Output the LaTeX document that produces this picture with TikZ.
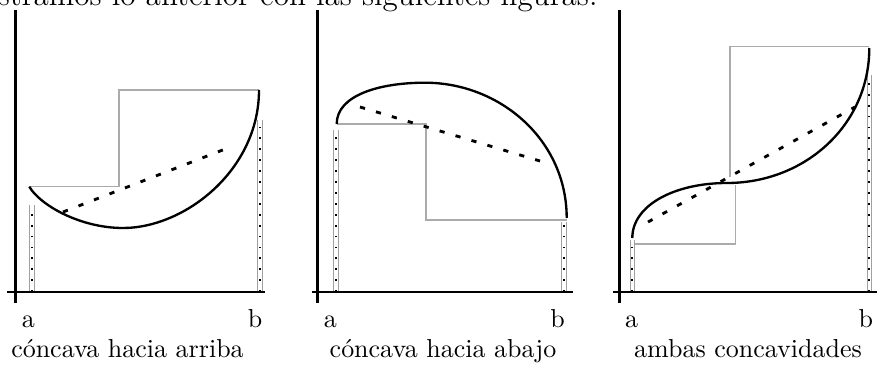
\documentclass[tikz,border=0pt]{standalone}
\usepackage{tikz}
\definecolor{Step}{HTML}{ABABAB}
\definecolor{Guide}{HTML}{A0A0A0}
\tikzset{
  eje/.style={line width=1.1pt,draw=black},
  curva/.style={line width=0.9pt,draw=black},
  escalon/.style={line width=0.45pt,draw=Step},
  secante/.style={line width=1.1pt,draw=black,dash pattern=on 2pt off 4.4pt},
  guia/.style={line width=0.4pt,draw=Guide,double=white,double distance=1.2pt},
  puntos/.style={line width=0.9pt,draw=black,dash pattern=on 0.7pt off 3.5pt},
  etiqueta/.style={anchor=base,inner sep=0pt}
}
\newcommand{\ordenada}[2]{%
  \draw[guia] (#1,292) -- (#1,#2);
  \draw[puntos] (#1,292) -- (#1,#2);}

\begin{document}
\begin{tikzpicture}[x=0.385pt,y=-0.385pt]
  \useasboundingbox (0,0) rectangle (877,369);
  \node[anchor=base east,inner sep=0pt,font=\fontsize{12}{14}\selectfont] (intro) at (598,5.5) {Ilustramos lo anterior con las siguientes figuras.};

  % concava hacia arriba
  \draw[escalon] (29.3,186.5) -- (119,186.5) -- (119,90) -- (259,90);
  \ordenada{32}{205}
  \ordenada{260}{120}
  \draw[secante] (63,212) -- (233,146);
  \draw[curva] (29.3,186.7) .. controls (40,205) and (80,228) .. (123,228)
               .. controls (185,228) and (259,170) .. (259,90);
  \draw[eje] (15.3,10) -- (15.3,303);
  \draw[eje] (7,292) -- (265,292);
  \node[etiqueta] (a1) at (28.3,328) {a};
  \node[etiqueta] (b1) at (255,328) {b};
  \node[etiqueta] (c1) at (127.5,358) {cóncava hacia arriba};

  % concava hacia abajo
  \draw[escalon] (336.7,124) -- (426,124) -- (426,220) -- (566.7,220);
  \ordenada{336}{130}
  \ordenada{564}{222}
  \draw[secante] (360,107) -- (540,161);
  \draw[curva] (336.7,124) .. controls (336.7,95) and (380,82.7) .. (425,82.7)
               .. controls (500,82.7) and (566.7,140) .. (566.7,218);
  \draw[eje] (317.3,10) -- (317.3,303);
  \draw[eje] (312,292) -- (573,292);
  \node[etiqueta] (a2) at (330.3,328) {a};
  \node[etiqueta] (b2) at (557.5,328) {b};
  \node[etiqueta] (c2) at (443,358) {cóncava hacia abajo};

  % ambas concavidades
  \draw[escalon] (632.3,244) -- (735.7,244) -- (735.7,185);
  \draw[escalon] (730,176.7) -- (730,46.7) -- (869.3,46.7);
  \ordenada{632.3}{240}
  \ordenada{869.3}{75}
  \draw[secante] (648,222) -- (855,107);
  \draw[curva] (632.3,238) .. controls (632.3,205) and (675,183) .. (727,183)
               .. controls (805,183) and (869.3,125) .. (869.3,48);
  \draw[eje] (619.3,10) -- (619.3,303);
  \draw[eje] (613,292) -- (877,292);
  \node[etiqueta] (a3) at (631.7,328) {a};
  \node[etiqueta] (b3) at (865.8,328) {b};
  \node[etiqueta] (c3) at (748,358) {ambas concavidades};
\end{tikzpicture}
\end{document}
